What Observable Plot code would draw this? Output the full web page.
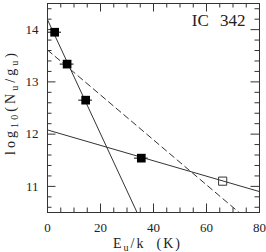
<!DOCTYPE html>
<html><head><meta charset="utf-8">
<script src="https://cdn.jsdelivr.net/npm/d3@7"></script>
<script src="https://cdn.jsdelivr.net/npm/@observablehq/plot@0.6"></script>
<style>body{margin:0;background:#fff} #chart svg{display:block}</style>
</head><body><div id="chart"></div>
<script>
// detected transitions (filled squares) with horizontal error bars
const energy = [2.7, 7.4, 14.4, 35.4];
const logNg = [13.95, 13.34, 12.65, 11.54];
const energyErr = [2.6, 2.6, 2.6, 2.6];
// open square (upper limit)
const openEnergy = [66.1];
const openLogNg = [11.10];
// fitted rotation-diagram lines
const steepE = [0, 33.8];
const steepY = [14.19, 10.5];
const shallowE = [0, 80];
const shallowY = [12.08, 10.90];
const dashE = [0, 72.3];
const dashY = [13.61, 10.5];
// ticks
const xMajor = [0, 20, 40, 60, 80];
const xMinor = [5, 10, 15, 25, 30, 35, 45, 50, 55, 65, 70, 75];
const yMajor = [11, 12, 13, 14];
const yMinor = [10.6, 10.8, 11.2, 11.4, 11.6, 11.8, 12.2, 12.4, 12.6, 12.8, 13.2, 13.4, 13.6, 13.8, 14.2, 14.4];
const sourceName = "IC 342";

const W = 266, H = 252, mL = 47, mR = 7, mT = 3, mB = 40;
const fw = W - mL - mR, fh = H - mT - mB;
const ink = "#333";
const font = "Liberation Serif, Times New Roman, serif";

const pts = energy.map((e, i) => ({e, y: logNg[i], err: energyErr[i]}));
const open = openEnergy.map((e, i) => ({e, y: openLogNg[i]}));
const toLine = (E, Y) => E.map((e, i) => ({e, y: Y[i]}));
const majL = 8.5, minL = 4.5;

const chart = Plot.plot({
  width: W, height: H,
  marginLeft: mL, marginRight: mR, marginTop: mT, marginBottom: mB,
  x: {domain: [0, 80], axis: null},
  y: {domain: [10.5, 14.5], axis: null},
  style: {fontFamily: font, fontSize: "13px", color: "#222", background: "#fff"},
  marks: [
    // tick marks, inward on all four sides
    Plot.tickX(xMajor, {x: d => d, insetTop: fh - majL, stroke: ink}),
    Plot.tickX(xMinor, {x: d => d, insetTop: fh - minL, stroke: ink}),
    Plot.tickX(xMajor, {x: d => d, insetBottom: fh - majL, stroke: ink}),
    Plot.tickX(xMinor, {x: d => d, insetBottom: fh - minL, stroke: ink}),
    Plot.tickY(yMajor, {y: d => d, insetRight: fw - majL, stroke: ink}),
    Plot.tickY(yMinor, {y: d => d, insetRight: fw - minL, stroke: ink}),
    Plot.tickY(yMajor, {y: d => d, insetLeft: fw - majL, stroke: ink}),
    Plot.tickY(yMinor, {y: d => d, insetLeft: fw - minL, stroke: ink}),
    // tick labels
    Plot.text(xMajor, {x: d => d, text: d => String(d), frameAnchor: "bottom", lineAnchor: "top", dy: 10, fill: "#222"}),
    Plot.text(yMajor, {y: d => d, text: d => String(d), frameAnchor: "left", textAnchor: "end", dx: -9, fill: "#222"}),
    // fit lines
    Plot.line(toLine(steepE, steepY), {x: "e", y: "y", stroke: ink, strokeWidth: 1, clip: true}),
    Plot.line(toLine(shallowE, shallowY), {x: "e", y: "y", stroke: ink, strokeWidth: 1, clip: true}),
    Plot.line(toLine(dashE, dashY), {x: "e", y: "y", stroke: ink, strokeWidth: 1, strokeDasharray: "6,4", clip: true}),
    // error bars and points
    Plot.ruleY(pts, {y: "y", x1: d => d.e - d.err, x2: d => d.e + d.err, stroke: ink, strokeWidth: 1.2}),
    Plot.dot(pts, {x: "e", y: "y", symbol: "square", r: 4.9, fill: "#000"}),
    Plot.dot(open, {x: "e", y: "y", symbol: "square", r: 4.6, fill: "none", stroke: ink, strokeWidth: 1}),
    Plot.frame({stroke: ink}),
    Plot.text([sourceName], {frameAnchor: "top-right", lineAnchor: "bottom", dx: -14, dy: 22, fontSize: 17, fill: "#222"})
  ]
});

const svg = d3.select(chart);
svg.selectAll("text").filter(function() { return this.textContent === sourceName; })
  .style("word-spacing", "7px");

// x axis label: E_u/k (K)
const xl = svg.append("text")
  .attr("x", 146.5).attr("y", 248)
  .attr("text-anchor", "middle")
  .attr("font-family", font).attr("font-size", 14).attr("fill", "#222")
  .attr("textLength", 67).attr("lengthAdjust", "spacing");
xl.append("tspan").text("E");
xl.append("tspan").attr("font-size", 10).attr("dy", 3).text("u");
xl.append("tspan").attr("dy", -3).text("/k\u00a0\u00a0(K)");

// y axis label: log10(Nu/gu)
const yl = svg.append("text")
  .attr("transform", "translate(15,104) rotate(-90)")
  .attr("text-anchor", "middle")
  .attr("font-family", font).attr("font-size", 14).attr("fill", "#222")
  .attr("textLength", 102).attr("lengthAdjust", "spacing");
yl.append("tspan").text("log");
yl.append("tspan").attr("font-size", 10).attr("dy", 3).text("10");
yl.append("tspan").attr("dy", -3).text("(N");
yl.append("tspan").attr("font-size", 10).attr("dy", 3).text("u");
yl.append("tspan").attr("dy", -3).text("/g");
yl.append("tspan").attr("font-size", 10).attr("dy", 3).text("u");
yl.append("tspan").attr("dy", -3).text(")");

document.getElementById("chart").append(chart);
</script>
</body></html>
